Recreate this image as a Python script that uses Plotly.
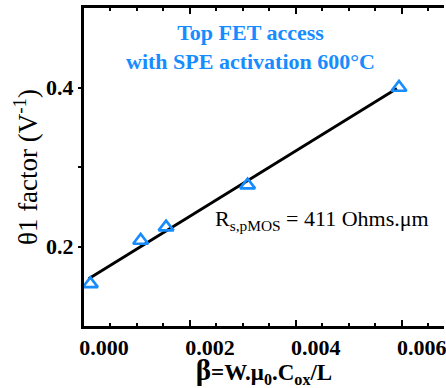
import plotly.graph_objects as go

# Measured theta1 factor versus beta = W.mu0.Cox/L
beta = [0.00012, 0.00107, 0.00155, 0.00309, 0.00595]
theta1 = [0.153, 0.2076, 0.2244, 0.2772, 0.400]

# Linear fit line end points
fit_beta = [0.000088, 0.00591]
fit_theta1 = [0.1595, 0.3987]

x_ticks = [0.000, 0.002, 0.004, 0.006]
x_ticktext = ["0.000", "0.002", "0.004", "0.006"]
y_ticks = [0.2, 0.4]
y_ticktext = ["0.2", "0.4"]

BLUE = "#168cff"
SERIF = "Liberation Serif, Times New Roman, Times, serif"

fig = go.Figure()
fig.add_trace(go.Scatter(
    x=fit_beta, y=fit_theta1, mode="lines",
    line=dict(color="black", width=2.8), showlegend=False,
))
fig.add_trace(go.Scatter(
    x=beta, y=theta1, mode="markers",
    marker=dict(symbol="triangle-up-open", size=13, color=BLUE,
                line=dict(color=BLUE, width=2.6)),
    showlegend=False,
))

fig.add_annotation(
    x=0.00314, y=0.4506, xref="x", yref="y",
    text="Top FET access<br>with SPE activation 600°C",
    showarrow=False, align="center",
    font=dict(family=SERIF, size=22, color=BLUE, weight="bold"),
)
fig.add_annotation(
    x=0.00243, y=0.2330, xref="x", yref="y", xanchor="left",
    text="R<sub>s,pMOS</sub> = 411 Ohms.μm",
    showarrow=False,
    font=dict(family=SERIF, size=22, color="black"),
)

fig.update_xaxes(
    range=[0, 0.0068],
    tickvals=x_ticks, ticktext=x_ticktext,
    ticks="inside", ticklen=6, tickwidth=2, tickcolor="black",
    minor=dict(dtick=0.0005, ticks="inside", ticklen=3, tickwidth=2, tickcolor="black"),
    ticklabelshift=20, ticklabeloverflow="allow",
    showline=True, linewidth=3, linecolor="black", mirror="allticks",
    showgrid=False, zeroline=False,
    tickfont=dict(family=SERIF, size=22, color="black", weight="bold"),
    title=dict(
        text="<span style='font-size:29px'>β</span>=W.μ<sub>0</sub>.C<sub>ox</sub>/L",
        font=dict(family=SERIF, size=23, color="black", weight="bold"),
        standoff=8,
    ),
)
fig.update_yaxes(
    range=[0.1, 0.5],
    tickvals=y_ticks, ticktext=y_ticktext,
    ticks="outside", ticklen=3, tickwidth=2, tickcolor="black",
    minor=dict(tickvals=[0.3], ticks="outside", ticklen=3, tickwidth=2, tickcolor="black"),
    showline=True, linewidth=3, linecolor="black", mirror=False,
    showgrid=False, zeroline=False,
    tickfont=dict(family=SERIF, size=22, color="black", weight="bold"),
    title=dict(
        text="θ1 factor (V<sup>-1</sup>)",
        font=dict(family=SERIF, size=27, color="black"),
        standoff=1,
    ),
)

fig.update_layout(
    width=446, height=388,
    margin=dict(l=84, r=0, t=8, b=62),
    paper_bgcolor="white", plot_bgcolor="white",
)

fig.write_html("out.html")
